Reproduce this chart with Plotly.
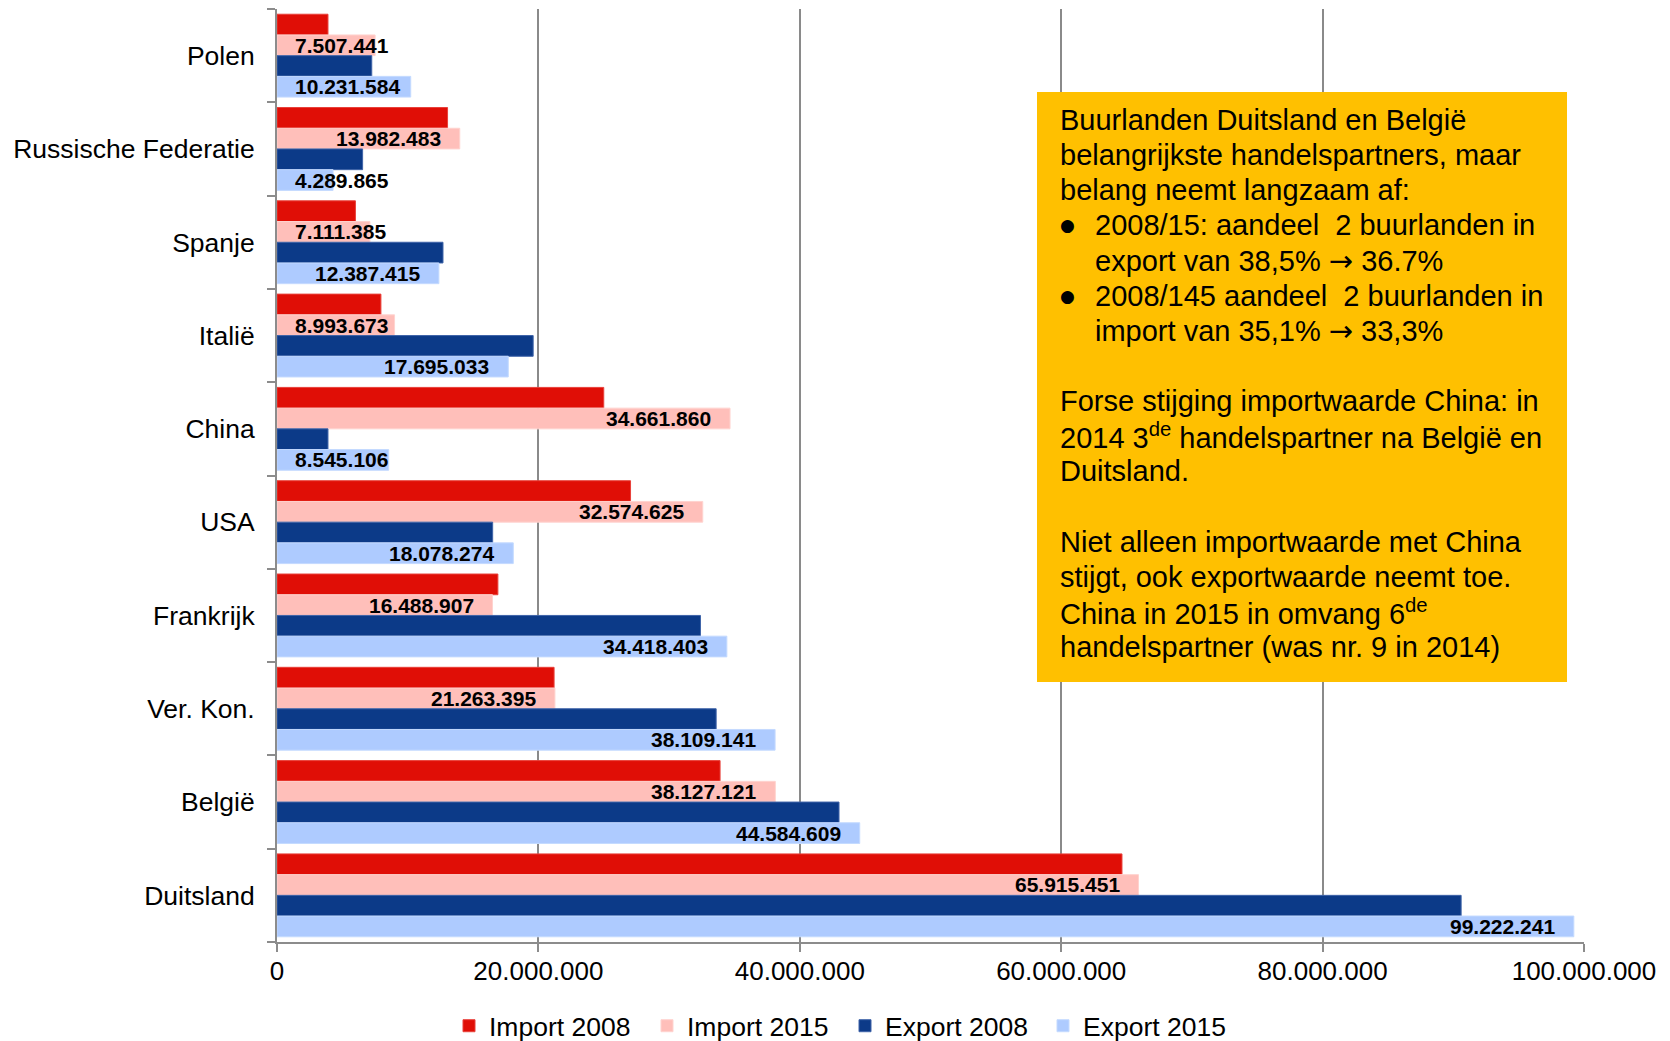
import plotly.graph_objects as go

# ---------------- data ----------------
categories = ["Polen", "Russische Federatie", "Spanje", "Italië", "China",
              "USA", "Frankrijk", "Ver. Kon.", "België", "Duitsland"]
import_2008 = [3.9e6, 13.05e6, 6.0e6, 7.95e6, 25.0e6, 27.05e6, 16.9e6, 21.2e6, 33.9e6, 64.65e6]
import_2015 = [7507441, 13982483, 7111385, 8993673, 34661860, 32574625, 16488907, 21263395, 38127121, 65915451]
export_2008 = [7.25e6, 6.55e6, 12.7e6, 19.6e6, 3.9e6, 16.5e6, 32.4e6, 33.6e6, 43.0e6, 90.6e6]
export_2015 = [10231584, 4289865, 12387415, 17695033, 8545106, 18078274, 34418403, 38109141, 44584609, 99222241]

series_names = ["Import 2008", "Import 2015", "Export 2008", "Export 2015"]
series_values = [import_2008, import_2015, export_2008, export_2015]
labelled = [False, True, False, True]

x_tickvals = [0, 20e6, 40e6, 60e6, 80e6, 100e6]

ARROW = '<span style="font-family:DejaVu Sans">→</span>'
box_lines = [
    ("", "Buurlanden Duitsland en België"),
    ("", "belangrijkste handelspartners, maar"),
    ("", "belang neemt langzaam af:"),
    ("●", "2008/15: aandeel\u00a0\u00a02 buurlanden in"),
    ("", "export van 38,5% " + ARROW + " 36.7%"),
    ("●", "2008/145 aandeel\u00a0\u00a02 buurlanden in"),
    ("", "import van 35,1% " + ARROW + " 33,3%"),
    ("", ""),
    ("", "Forse stijging importwaarde China: in"),
    ("", "2014 3<sup>de</sup> handelspartner na België en"),
    ("", "Duitsland."),
    ("", ""),
    ("", "Niet alleen importwaarde met China"),
    ("", "stijgt, ook exportwaarde neemt toe."),
    ("", "China in 2015 in omvang 6<sup>de</sup>"),
    ("", "handelspartner (was nr. 9 in 2014)"),
]

# ---------------- style ----------------
PAGE_W, PAGE_H = 1670, 1041
OFF = 8                      # default body margin of the html page
W, H = PAGE_W - OFF, PAGE_H - OFF
PLOT_L, PLOT_R, PLOT_T, PLOT_B = 277, 1584, 9, 942   # page pixels
ML, MT = PLOT_L - OFF, PLOT_T - OFF
MR = W - (PLOT_R - OFF)
MB = H - (PLOT_B - OFF)
PW, PH = PLOT_R - PLOT_L, PLOT_B - PLOT_T
FONT = "Arial, 'Liberation Sans', sans-serif"
colors = ["#E00E06", "#FFBFBA", "#0C3A88", "#AECBFF"]
edge_colors = ["#E8403A", "#FFD3CF", "#3E63A8", "#C4DAFF"]
AXIS_COL = "#8C8C8C"
GRID_COL = "#8A8A8A"
BAR_W = 0.222
LABEL_SIZE = 21
LABEL_PAD = 17
X_MAX = 100e6


def fmt(v):
    return f"{int(v):,}".replace(",", ".")


def text_width(s, size):
    w = 0.0
    for ch in s:
        w += 0.278 if ch == "." else 0.556
    return w * size


def px_x(px):
    return (px - PLOT_L) / PW


def px_y(py):
    return (PLOT_B - py) / PH


fig = go.Figure()
n = len(categories)
for k, (name, vals) in enumerate(zip(series_names, series_values)):
    ys = [i + (k - 1.5) * BAR_W for i in range(n)]
    fig.add_trace(go.Bar(
        name=name, orientation="h", x=vals, y=ys, width=BAR_W,
        marker=dict(color=colors[k], line=dict(color=edge_colors[k], width=1)),
        hoverinfo="x+name",
    ))

annotations = []
px_per_unit = PW / X_MAX
for k, vals in enumerate(series_values):
    if not labelled[k]:
        continue
    for i, v in enumerate(vals):
        y = i + (k - 1.5) * BAR_W
        txt = fmt(v)
        tw = text_width(txt, LABEL_SIZE)
        bar_px = v * px_per_unit
        if bar_px < tw + 2 * LABEL_PAD:
            annotations.append(dict(x=0, y=y, xref="x", yref="y", text="<b>" + txt + "</b>",
                                    showarrow=False, xanchor="left", yanchor="middle",
                                    xshift=LABEL_PAD - 1,
                                    font=dict(family=FONT, size=LABEL_SIZE, color="black")))
        else:
            annotations.append(dict(x=v, y=y, xref="x", yref="y", text="<b>" + txt + "</b>",
                                    showarrow=False, xanchor="right", yanchor="middle",
                                    xshift=-LABEL_PAD,
                                    font=dict(family=FONT, size=LABEL_SIZE, color="black")))

# text box (page pixels)
BOX = (1037, 92, 1567, 682)
TEXT_X, INDENT_X = 1058, 1093
BASE0, LINE_H, BOX_FONT = 130, 35.13, 29
for j, (bullet, line) in enumerate(box_lines):
    yc = BASE0 + j * LINE_H - 10
    if bullet:
        annotations.append(dict(x=px_x(TEXT_X), y=px_y(yc), xref="paper", yref="paper",
                                text=bullet, showarrow=False, xanchor="left", yanchor="middle",
                                font=dict(family="DejaVu Sans", size=17, color="black")))
    if line:
        indent = INDENT_X if (bullet or j in (4, 6)) else TEXT_X
        annotations.append(dict(x=px_x(indent), y=px_y(yc), xref="paper", yref="paper",
                                text=line, showarrow=False, xanchor="left", yanchor="middle",
                                font=dict(family=FONT, size=BOX_FONT, color="black")))

shapes = [dict(type="rect", xref="paper", yref="paper",
               x0=px_x(BOX[0]), x1=px_x(BOX[2]), y0=px_y(BOX[3]), y1=px_y(BOX[1]),
               fillcolor="#FFC000", line=dict(width=0), layer="above")]

LEGEND_CY = 1026 - OFF
fig.update_layout(
    width=W, height=H,
    margin=dict(l=ML, r=MR, t=MT, b=MB, pad=0, autoexpand=False),
    paper_bgcolor="white", plot_bgcolor="white",
    separators=",.",
    barmode="overlay",
    font=dict(family=FONT, color="black"),
    annotations=annotations,
    shapes=shapes,
    showlegend=True,
    legend=dict(orientation="h", xref="container", yref="container",
                x=(845 - OFF) / W, xanchor="center", y=1 - LEGEND_CY / H, yanchor="middle",
                font=dict(family=FONT, size=26.5, color="black"),
                traceorder="normal", itemwidth=30,
                entrywidth=153, entrywidthmode="pixels"),
    xaxis=dict(range=[0, X_MAX], tickmode="array", tickvals=x_tickvals,
               tickformat=",d", showgrid=True, gridcolor=GRID_COL, gridwidth=1.5,
               zeroline=False, showline=True, linecolor=AXIS_COL, linewidth=2,
               ticks="outside", ticklen=8, tickcolor=AXIS_COL, tickwidth=1.5,
               tickfont=dict(family=FONT, size=26, color="black"),
               ticklabelstandoff=-3),
    yaxis=dict(range=[n - 0.5, -0.5], tickmode="array", tickvals=list(range(n)),
               ticktext=categories, showgrid=False, zeroline=False,
               showline=True, linecolor=AXIS_COL, linewidth=2, ticks="",
               tickfont=dict(family=FONT, size=26.5, color="black"),
               ticklabelstandoff=15,
               minor=dict(tickmode="array", tickvals=[i - 0.5 for i in range(n + 1)],
                          ticks="outside", ticklen=8, tickcolor=AXIS_COL, tickwidth=1.5,
                          showgrid=False)),
)

fig.write_html("out.html")
